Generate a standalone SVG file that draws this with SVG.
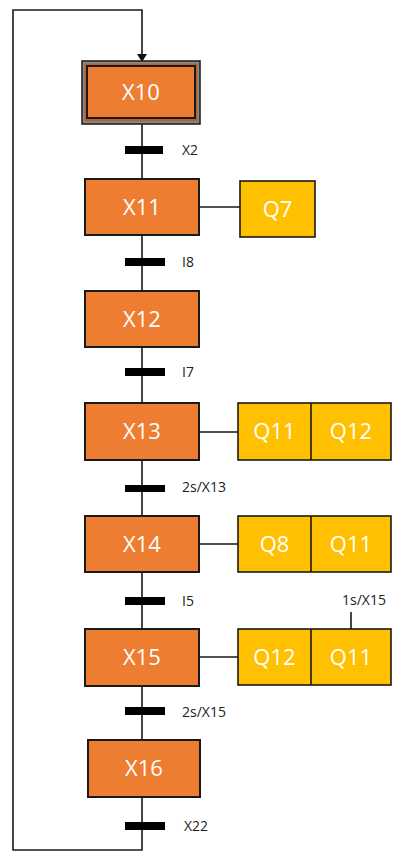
<svg xmlns="http://www.w3.org/2000/svg" width="398" height="852" viewBox="0 0 398 852">
<defs>
<marker id="arr" markerWidth="10" markerHeight="10" refX="8" refY="5" orient="auto" markerUnits="userSpaceOnUse">
<path d="M0,0 L8,5 L0,10 Z" fill="#111"/>
</marker>
<style>
.step{fill:#ED7D31;stroke:#1a1a1a;stroke-width:2}
.act{fill:#FFC000;stroke:#1a1a1a;stroke-width:1.6}
.st{font-family:"Open Sans","Liberation Sans",sans-serif;font-size:22px;fill:#fff;text-anchor:middle}
.lb{font-family:"Open Sans","Liberation Sans",sans-serif;font-size:14px;fill:#222}
.ln{stroke:#1a1a1a;stroke-width:1.6;fill:none}
.bar{fill:#000}
</style>
</defs>
<rect width="398" height="852" fill="#fff"/>
<g id="connectors">
<path class="ln" d="M142,124 V179 M142,235 V291 M142,347 V403 M142,460 V516 M142,572 V629 M142,686 V740 M142,797 V850 H13 V10 H142 V62" marker-end="url(#arr)"/>
<path class="ln" d="M199,207 H240 M199,432 H238 M199,544 H238 M199,657 H238 M351,612 V629"/>
</g>
<g id="X10">
<rect x="82" y="61" width="118" height="63" fill="#8a8a8a" stroke="#222" stroke-width="1.6"/>
<rect x="84.5" y="63.5" width="113" height="58" fill="#B0622A"/>
<rect x="87" y="66" width="108" height="52" class="step"/>
<text x="141" y="100" class="st">X10</text>
</g>
<g id="T1"><rect x="125" y="146" width="38" height="8" class="bar"/><text x="182" y="155" class="lb">X2</text></g>
<g id="X11"><rect x="85" y="179" width="114" height="56" class="step"/><text x="142" y="215" class="st">X11</text></g>
<g id="Q7"><rect x="240" y="181" width="75" height="56" class="act"/><text x="277.5" y="217" class="st">Q7</text></g>
<g id="T2"><rect x="125" y="258" width="40" height="8" class="bar"/><text x="182" y="267" class="lb">I8</text></g>
<g id="X12"><rect x="85" y="291" width="114" height="56" class="step"/><text x="142" y="327" class="st">X12</text></g>
<g id="T3"><rect x="125" y="368" width="40" height="8" class="bar"/><text x="182" y="377" class="lb">I7</text></g>
<g id="X13"><rect x="85" y="403" width="114" height="57" class="step"/><text x="142" y="439" class="st">X13</text></g>
<g id="A13"><rect x="238" y="403" width="153" height="57" class="act"/><line x1="311" y1="403" x2="311" y2="460" class="ln"/><text x="274.5" y="439" class="st">Q11</text><text x="351" y="439" class="st">Q12</text></g>
<g id="T4"><rect x="125" y="485" width="40" height="7" class="bar"/><text x="182" y="492" class="lb">2s/X13</text></g>
<g id="X14"><rect x="85" y="516" width="114" height="56" class="step"/><text x="142" y="552" class="st">X14</text></g>
<g id="A14"><rect x="238" y="516" width="153" height="56" class="act"/><line x1="311" y1="516" x2="311" y2="572" class="ln"/><text x="274.5" y="552" class="st">Q8</text><text x="351" y="552" class="st">Q11</text></g>
<g id="T5"><rect x="125" y="597" width="40" height="8" class="bar"/><text x="182" y="606" class="lb">I5</text></g>
<g id="X15"><rect x="85" y="629" width="114" height="57" class="step"/><text x="142" y="665" class="st">X15</text></g>
<g id="A15"><rect x="238" y="629" width="153" height="56" class="act"/><line x1="311" y1="629" x2="311" y2="685" class="ln"/><text x="274.5" y="665" class="st">Q12</text><text x="351" y="665" class="st">Q11</text><text x="342" y="605" class="lb">1s/X15</text></g>
<g id="T6"><rect x="125" y="707" width="40" height="8" class="bar"/><text x="182" y="717" class="lb">2s/X15</text></g>
<g id="X16"><rect x="88" y="740" width="112" height="57" class="step"/><text x="144" y="776" class="st">X16</text></g>
<g id="T7"><rect x="125" y="822" width="40" height="8" class="bar"/><text x="184" y="831" class="lb">X22</text></g>
</svg>
